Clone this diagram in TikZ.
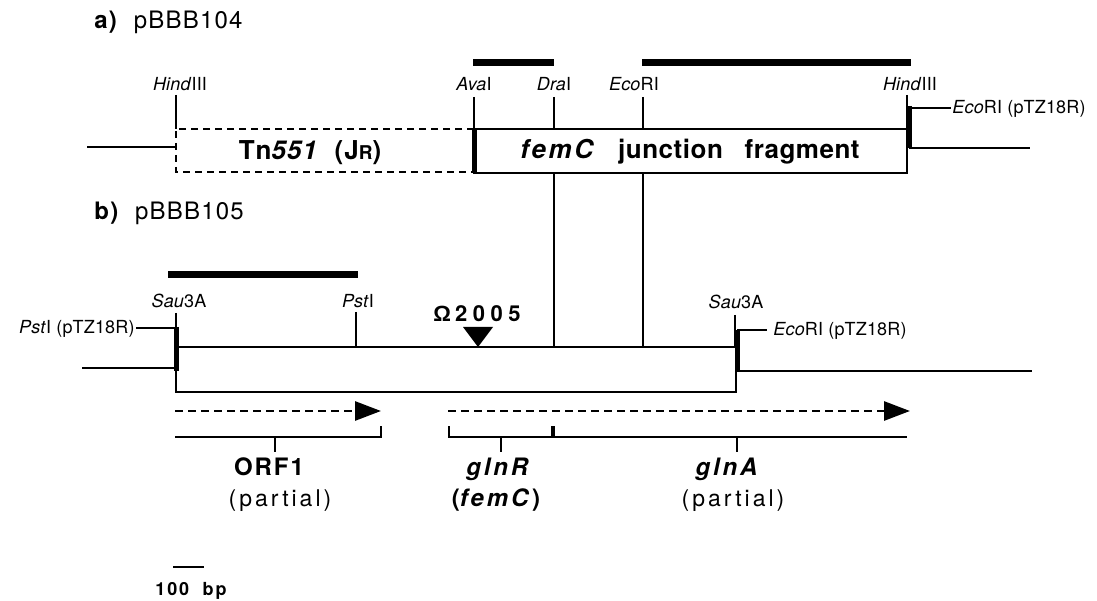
\documentclass[tikz,border=0pt]{standalone}
\usepackage{fontspec}
\setmainfont{TeX Gyre Heros}
\newfontfamily\omegafont{Liberation Sans}
\usetikzlibrary{arrows.meta}
\newcommand{\spaced}[2]{{\addfontfeature{LetterSpace=#1}#2}}

\begin{document}
\begin{tikzpicture}[x=1pt, y=-1pt, >={Triangle[length=26pt,width=19pt]}, line width=2.8pt,
	site/.style={font=\fontsize{18}{18}\selectfont\addfontfeature{LetterSpace=1}, anchor=base, inner sep=0pt},
	big/.style={font=\fontsize{26}{26}\selectfont\bfseries, anchor=base, inner sep=0pt},
	gene/.style={font=\fontsize{23}{23}\selectfont\addfontfeature{LetterSpace=13}, anchor=base, inner sep=0pt},
	genebf/.style={font=\fontsize{24}{24}\selectfont\bfseries\addfontfeature{LetterSpace=12}, anchor=base, inner sep=0pt},
	head/.style={font=\fontsize{24}{24}\selectfont\addfontfeature{LetterSpace=5}, anchor=base west, inner sep=0pt},
	fragbar/.style={line width=7pt},
	joint/.style={line width=5pt},
	dashbox/.style={dash pattern=on 7pt off 5pt},
	orf/.style={->, dash pattern=on 8pt off 5pt}]
	\useasboundingbox (0,0) rectangle (1097,601);
	
	% a) pBBB104
	\node[head] (hdA) at (93,29) {\textbf{a)}\ \ pBBB104};
	
	% Fragments used as probes
	\draw[fragbar] (473,63) -- (554,63);
	\draw[fragbar] (642,63) -- (911,63);
	
	% Sites on pBBB104
	\node[site] (hindL) at (180,91) {\textit{Hind}III};
	\node[site] (avaA) at (474,91) {\textit{Ava}I};
	\node[site] (draA) at (554,91) {\textit{Dra}I};
	\node[site] (ecoA) at (634,91) {\textit{Eco}RI};
	\node[site] (hindR) at (910,91) {\textit{Hind}III};
	\draw (176,95) -- (176,129);
	\draw (474,97) -- (474,129);
	\draw (554,97) -- (554,129);
	\draw (643,97) -- (643,129);
	\draw (907,95) -- (907,173);
	
	% Tn551 part and femC junction fragment
	\draw[dashbox] (474,129) -- (176,129) -- (176,172) -- (474,172);
	\draw (474,129) rectangle (907,173);
	\draw[joint] (474,129) -- (474,173);
	\node[big] (tn) at (310,160) {\spaced{4}{Tn\textit{551}\ \ (J{\fontsize{19}{19}\selectfont R})}};
	\node[big] (femcA) at (690,159) {\spaced{10}{\textit{femC}}\ \ \ \spaced{2}{junction}\ \ \ \spaced{2}{fragment}};
	
	% Vector ends
	\draw (87,147) -- (176,147);
	\draw[joint] (909,106) -- (909,148);
	\coordinate (vecA) at (909,148);
	\draw (vecA) -- (1030,148);
	\node[site, anchor=base west] (ecoVecA) at (951,114) {\textit{Eco}RI (pTZ18R)};
	\draw (909,108) -- (ecoVecA.base west |- 0,108);
	
	% b) pBBB105
	\node[head] (hdB) at (93,220) {\textbf{b)}\ \ pBBB105};
	
	% Fragment used as probe
	\draw[fragbar] (168,275) -- (358,275);
	
	% Sites on pBBB105
	\node[site] (sauL) at (179,308) {\textit{Sau}3A};
	\node[site] (pstB) at (358,308) {\textit{Pst}I};
	\node[site] (sauR) at (736,309) {\textit{Sau}3A};
	\draw (176,313) -- (176,347);
	\draw (356,312) -- (356,347);
	\draw (735,315) -- (735,347);
	
	% Insertion
	\node[genebf, font=\fontsize{22}{22}\selectfont\bfseries\addfontfeature{LetterSpace=25}] (omega) at (477,322) {{\omegafont Ω}\hspace{4pt}2005};
	\fill (463,327) -- (493,327) -- (478,347) -- cycle;
	
	% Insert of pBBB105
	\draw (176,347) rectangle (736,392);
	\coordinate (draB) at (554,347);
	\coordinate (ecoB) at (643,347);
	\coordinate (draT) at (554,173);
	\coordinate (ecoT) at (643,173);
	\draw (draT) -- (draB);
	\draw (ecoT) -- (ecoB);
	
	% Vector ends
	\draw[joint] (176,327) -- (176,371);
	\draw (82,368) -- (176,368);
	\node[site, anchor=base east] (pstVec) at (136,334) {\textit{Pst}I (pTZ18R)};
	\draw (pstVec.base east |- 0,328) -- (176,328);
	\draw[joint] (737,330) -- (737,371);
	\draw (737,371) -- (1032,371);
	\node[site, anchor=base west] (ecoVecB) at (772,336) {\textit{Eco}RI (pTZ18R)};
	\draw (737,330) -- (767,330);
	
	% Reading frames
	\draw[orf] (175,411) -- (381,411);
	\draw[orf] (448,411) -- (910,411);
	\draw (175,437) -- (381,437) -- (381,426);
	\draw (275,437) -- (275,452);
	\draw (449,426) -- (449,437) -- (907,437);
	\draw[line width=4.5pt] (553,426) -- (553,437);
	\draw (501,437) -- (501,452);
	\draw (737,437) -- (737,452);
	
	% Gene names
	\node[genebf] (orf1) at (269,475) {\spaced{8}{ORF1}};
	\node[gene] (orf1p) at (280,506) {(partial)};
	\node[genebf] (glnr) at (499,475) {\textit{glnR}};
	\node[genebf] (glnrf) at (496,506) {(\textit{femC})};
	\node[genebf] (glna) at (728,475) {\textit{glnA}};
	\node[gene] (glnap) at (733,506) {(partial)};
	
	% Scale
	\draw (173,567) -- (204,567);
	\node[site, font=\fontsize{18}{18}\selectfont\bfseries\addfontfeature{LetterSpace=10}] (scale) at (191,595) {100\ \ bp};
\end{tikzpicture}
\end{document}
